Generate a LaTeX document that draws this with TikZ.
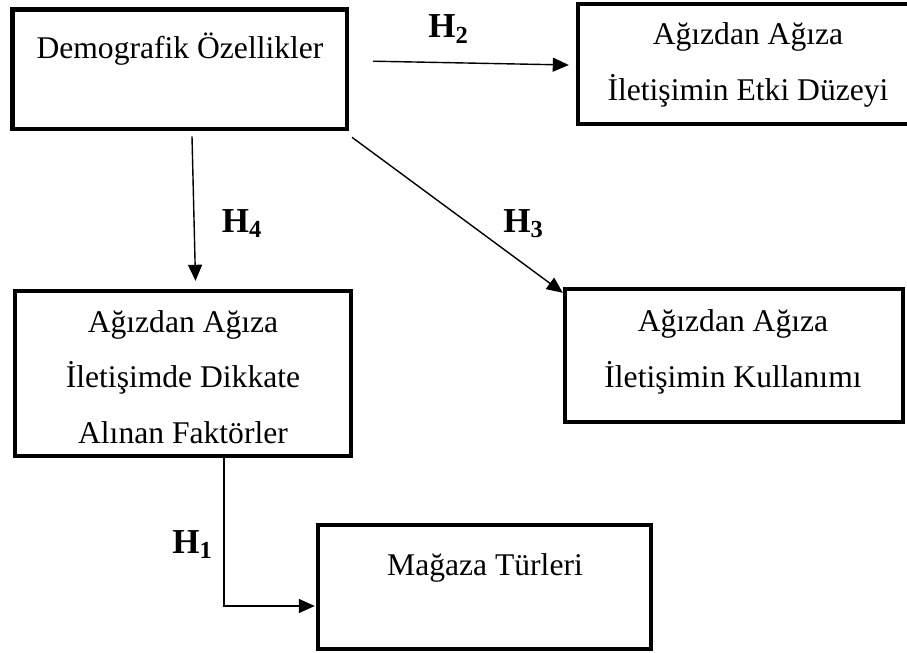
\documentclass[tikz,border=0pt]{standalone}
\usepackage{fontspec}
\setmainfont{Liberation Serif}
\usetikzlibrary{arrows.meta}
\tikzset{
  kutu/.style={draw,line width=2.2pt,inner sep=0pt},
  yazi/.style={font=\fontsize{15.8}{27.75}\selectfont,align=center,inner sep=0pt,anchor=base},
  ok/.style={line width=0.7pt,-{Triangle[length=8pt,width=7pt]}},
  hip/.style={font=\fontsize{17.5}{20}\selectfont\bfseries,inner sep=0pt,anchor=base west}
}

\begin{document}
\begin{tikzpicture}[x=0.5pt,y=-0.5pt]
\useasboundingbox (0,0) rectangle (907,653);
\node [kutu,minimum width=167.2pt,minimum height=59.9pt] (demo) at (179.6,69.2) {};
\node [kutu,minimum width=170pt,minimum height=60pt] (etki) at (748,64) {};
\node [kutu,minimum width=169pt,minimum height=66.5pt] (kullanim) at (734,355.5) {};
\node [kutu,minimum width=168pt,minimum height=82.5pt] (faktor) at (183,373.5) {};
\node [kutu,minimum width=166.5pt,minimum height=62pt] (magaza) at (484.5,587) {};
\node [yazi] (demoyazi) at (180,58) {Demografik Özellikler};
\node [yazi] (etkiyazi) at (748,100) {Ağızdan Ağıza\\İletişimin Etki Düzeyi};
\node [yazi] (kullanimyazi) at (733,387) {Ağızdan Ağıza\\İletişimin Kullanımı};
\node [yazi] (faktoryazi) at (183,443) {Ağızdan Ağıza\\İletişimde Dikkate\\Alınan Faktörler};
\node [yazi] (magazayazi) at (485,575) {Mağaza Türleri};
\draw [ok] ([shift={(24,-8)}]demo.east) -- ([shift={(-7,1)}]etki.west);
\draw [ok] ([shift={(12.4,5)}]demo.south) -- ([shift={(12.5,-8)}]faktor.north);
\draw [ok] ([shift={(3,6)}]demo.south east) -- ([shift={(0,6)}]kullanim.north west);
\draw [ok] ([shift={(41,0)}]faktor.south) |- ([shift={(-1,19)}]magaza.west);
\node [hip] (h2) at (428,38) {H\textsubscript{2}};
\node [hip] (h4) at (221.5,232) {H\textsubscript{4}};
\node [hip] (h3) at (503,232) {H\textsubscript{3}};
\node [hip] (h1) at (172,553) {H\textsubscript{1}};
\end{tikzpicture}
\end{document}
